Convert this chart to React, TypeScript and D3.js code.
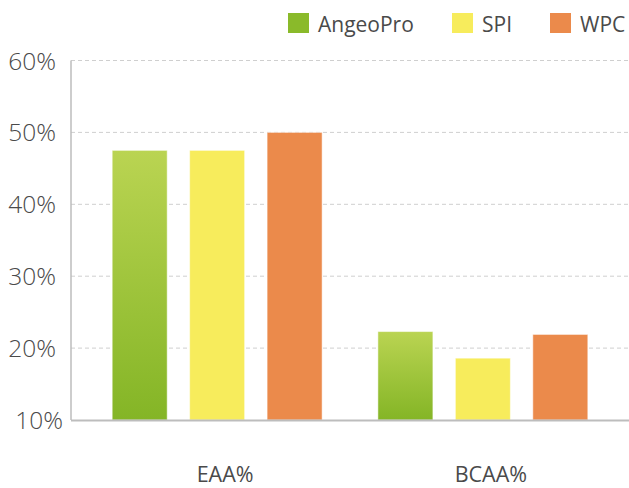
import React, { useEffect, useRef } from 'react';
import * as d3 from 'd3';

const categories = ['EAA%', 'BCAA%'];
const seriesNames = ['AngeoPro', 'SPI', 'WPC'];
const angeoPro = [47.5, 22.3];
const spi = [47.5, 18.6];
const wpc = [50, 21.9];
const yTicks = [10, 20, 30, 40, 50, 60];

const seriesValues = [angeoPro, spi, wpc];
const colors = ['#8aba2a', '#f7ec5c', '#eb8a4b'];

export default function App() {
  const svgRef = useRef<SVGSVGElement>(null);

  useEffect(() => {
    if (!svgRef.current) return;
    const svg = d3.select(svgRef.current);
    svg.selectAll('*').remove();

    const width = 629;
    const left = 71;
    const right = 629;
    const top = 60.5;
    const bottom = 420;
    const font = '"Open Sans", "Noto Sans", sans-serif';
    const textColor = '#4a4a4a';

    const defs = svg.append('defs');
    const grad = defs.append('linearGradient')
      .attr('id', 'greenGrad')
      .attr('x1', 0).attr('y1', 0).attr('x2', 0).attr('y2', 1);
    grad.append('stop').attr('offset', '0%').attr('stop-color', '#bad452');
    grad.append('stop').attr('offset', '100%').attr('stop-color', '#84b526');

    const y = d3.scaleLinear().domain([10, 60]).range([bottom, top]);

    const x0 = d3.scaleBand<string>()
      .domain(categories)
      .range([left, right])
      .paddingInner(0.21)
      .paddingOuter(0.155);

    const x1 = d3.scaleBand<string>()
      .domain(seriesNames)
      .range([0, x0.bandwidth()])
      .paddingInner(0.29);

    // gridlines
    svg.append('g')
      .selectAll('line')
      .data(yTicks.filter(t => t > 10))
      .enter()
      .append('line')
      .attr('x1', left)
      .attr('x2', width)
      .attr('y1', d => y(d))
      .attr('y2', d => y(d))
      .attr('stroke', '#cfcfcf')
      .attr('stroke-width', 1)
      .attr('stroke-dasharray', '4,3');

    // bars
    seriesNames.forEach((name, si) => {
      svg.append('g')
        .selectAll('rect')
        .data(categories)
        .enter()
        .append('rect')
        .attr('x', c => (x0(c) ?? 0) + (x1(name) ?? 0))
        .attr('y', (c, i) => y(seriesValues[si][i]))
        .attr('width', x1.bandwidth())
        .attr('height', (c, i) => bottom - y(seriesValues[si][i]))
        .attr('fill', si === 0 ? 'url(#greenGrad)' : colors[si])
        .attr('stroke', 'rgba(255,255,255,0.5)')
        .attr('stroke-width', 1);
    });

    // axes lines
    svg.append('line')
      .attr('x1', left).attr('x2', width)
      .attr('y1', bottom + 0.5).attr('y2', bottom + 0.5)
      .attr('stroke', '#bdbdbd').attr('stroke-width', 2);
    svg.append('line')
      .attr('x1', left).attr('x2', left)
      .attr('y1', top).attr('y2', bottom)
      .attr('stroke', '#bdbdbd').attr('stroke-width', 1.5);

    // y labels
    svg.append('g')
      .selectAll('text')
      .data(yTicks)
      .enter()
      .append('text')
      .attr('x', d => (d === 10 ? 63 : 56))
      .attr('y', d => y(d) + 9)
      .attr('text-anchor', 'end')
      .style('font-family', font)
      .style('font-size', '24.5px')
      .style('font-weight', 300)
      .attr('fill', textColor)
      .text(d => `${d}%`);

    // x labels
    svg.append('g')
      .selectAll('text')
      .data(categories)
      .enter()
      .append('text')
      .attr('x', c => (x0(c) ?? 0) + x0.bandwidth() / 2 + 8)
      .attr('y', 482)
      .attr('text-anchor', 'middle')
      .style('font-family', font)
      .style('font-size', '21.5px')
      .attr('fill', textColor)
      .text(c => c);

    // legend
    const legendX = [288, 452, 550];
    const legend = svg.append('g');
    seriesNames.forEach((name, i) => {
      legend.append('rect')
        .attr('x', legendX[i]).attr('y', 13)
        .attr('width', 21).attr('height', 20)
        .attr('fill', colors[i]);
      legend.append('text')
        .attr('x', legendX[i] + 30)
        .attr('y', 32)
        .style('font-family', font)
        .style('font-size', '21px')
        .attr('fill', textColor)
        .text(name);
    });
  }, []);

  return (
    <svg
      ref={svgRef}
      width={629}
      height={488}
      style={{ position: 'absolute', left: 0, top: 0, background: '#fff' }}
    />
  );
}
